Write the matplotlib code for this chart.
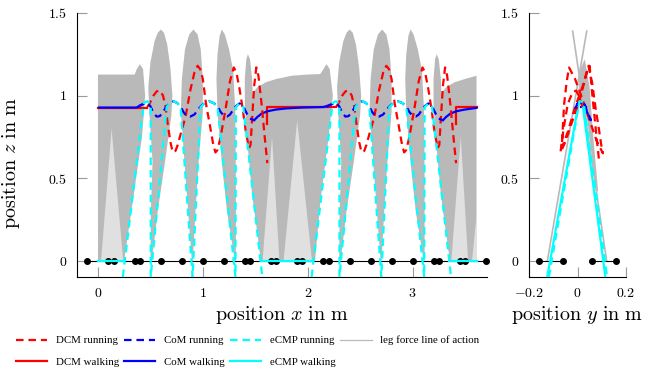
import matplotlib
matplotlib.use("Agg")
import matplotlib.pyplot as plt
from matplotlib.lines import Line2D

plt.rcParams["mathtext.fontset"] = "cm"
plt.rcParams["font.family"] = "serif"
plt.rcParams["font.serif"] = ["Liberation Serif", "DejaVu Serif"]

RED, BLUE, CYAN = "#ff0000", "#0000ff", "#00ffff"
GRAY, LIGHT = "#b9b9b9", "#e0e0e0"

# ---------------------------------------------------------------- sagittal (x-z)
## footstep heel/toe points on the ground
feet_x = [-0.1, 0.1, 0.15, 0.35, 0.4, 0.6, 0.8, 1.0, 1.2, 1.4, 1.45, 1.65, 1.7,
          1.9, 1.95, 2.15, 2.2, 2.4, 2.6, 2.8, 3.0, 3.2, 3.25, 3.45, 3.5, 3.7]

## DCM running (two running phases)
dcm_run1_x = [0.47, 0.50, 0.53, 0.56, 0.59, 0.62, 0.645, 0.665, 0.69, 0.71, 0.725, 0.74, 0.76, 0.79,
              0.835, 0.88, 0.92, 0.95, 0.975, 1.00, 1.03, 1.07, 1.10, 1.12, 1.14, 1.17, 1.22, 1.26,
              1.295, 1.32, 1.35, 1.38, 1.41, 1.44, 1.455, 1.47, 1.49, 1.51, 1.53, 1.56, 1.59, 1.615]
dcm_run_z = [0.93, 0.96, 1.00, 1.025, 1.03, 1.00, 0.93, 0.83, 0.72, 0.665, 0.655, 0.665, 0.70, 0.77,
             0.87, 1.03, 1.14, 1.18, 1.16, 1.10, 0.95, 0.81, 0.70, 0.655, 0.67, 0.75, 0.93, 1.09,
             1.17, 1.14, 1.04, 0.92, 0.78, 0.68, 0.70, 0.86, 1.06, 1.17, 1.12, 0.95, 0.75, 0.59]
dcm_run2_x = [2.27, 2.30, 2.33, 2.36, 2.39, 2.42, 2.445, 2.465, 2.49, 2.51, 2.525, 2.54, 2.56, 2.59,
              2.635, 2.68, 2.72, 2.75, 2.775, 2.80, 2.83, 2.87, 2.90, 2.92, 2.94, 2.97, 3.02, 3.06,
              3.095, 3.12, 3.15, 3.18, 3.21, 3.24, 3.255, 3.27, 3.29, 3.31, 3.33, 3.36, 3.39, 3.415]

## DCM walking
dcm_walk1_x = [0.0, 0.47]
dcm_walk1_z = [0.927, 0.927]
dcm_walk2_x = [1.615, 1.615, 2.27]
dcm_walk2_z = [0.83, 0.93, 0.93]
dcm_walk3_x = [3.415, 3.415, 3.61]
dcm_walk3_z = [0.83, 0.93, 0.93]

## CoM running
com_run1_x = [0.38, 0.42, 0.44, 0.47, 0.50, 0.53, 0.56, 0.59, 0.62, 0.655, 0.69, 0.72, 0.755, 0.79,
              0.82, 0.85, 0.88, 0.92, 0.95, 0.98, 1.02, 1.06, 1.10, 1.14, 1.17, 1.20, 1.23, 1.26,
              1.29, 1.315, 1.35, 1.385, 1.42, 1.45, 1.49]
com_run_z = [0.93, 0.945, 0.95, 0.955, 0.935, 0.895, 0.872, 0.875, 0.90, 0.935, 0.96, 0.965, 0.955, 0.93,
             0.895, 0.875, 0.872, 0.885, 0.91, 0.935, 0.955, 0.965, 0.955, 0.935, 0.90, 0.878, 0.872, 0.885,
             0.915, 0.935, 0.952, 0.935, 0.89, 0.86, 0.85]
com_run2_x = [2.18, 2.22, 2.24, 2.27, 2.30, 2.33, 2.36, 2.39, 2.42, 2.455, 2.49, 2.52, 2.555, 2.59,
              2.62, 2.65, 2.68, 2.72, 2.75, 2.78, 2.82, 2.86, 2.90, 2.94, 2.97, 3.00, 3.03, 3.06,
              3.09, 3.115, 3.15, 3.185, 3.22, 3.25, 3.29]

## CoM walking
com_walk1_x = [0.01, 0.36, 0.38, 0.40, 0.42]
com_walk1_z = [0.927, 0.927, 0.93, 0.94, 0.945]
com_walk2_x = [1.49, 1.52, 1.56, 1.62, 1.70, 1.80, 1.95, 2.15, 2.19, 2.22]
com_walk2_z = [0.85, 0.87, 0.89, 0.905, 0.915, 0.922, 0.927, 0.93, 0.938, 0.945]
com_walk3_x = [3.29, 3.32, 3.36, 3.42, 3.50, 3.61]
com_walk3_z = [0.85, 0.87, 0.89, 0.905, 0.915, 0.925]

## eCMP running
ecmp_run1_x = [0.237, 0.437, 0.455, 0.47, 0.49, 0.503, 0.503, 0.655, 0.685, 0.72, 0.755, 0.788,
               0.902, 0.978, 1.02, 1.06, 1.10, 1.14, 1.311, 1.315, 1.35, 1.385, 1.567]
ecmp_run_z = [-0.1, 0.95, 0.962, 0.965, 0.955, 0.94, -0.1, 0.93, 0.955, 0.965, 0.955, 0.93,
              -0.1, 0.93, 0.955, 0.965, 0.955, 0.93, -0.1, 0.93, 0.952, 0.935, -0.1]
ecmp_run2_x = [2.037, 2.237, 2.255, 2.27, 2.29, 2.303, 2.303, 2.455, 2.485, 2.52, 2.555, 2.588,
               2.702, 2.778, 2.82, 2.86, 2.90, 2.94, 3.111, 3.115, 3.15, 3.185, 3.367]

## eCMP walking (on the ground)
ecmp_walk_segments = [(0.0, 0.237), (1.55, 2.04), (3.35, 3.61)]

## leg force lines of action: dense envelopes and sparse (light) wedges
force_dense = [
    [(0.0, 0.0), (0.0, 1.127), (0.35, 1.127), (0.37, 1.16), (0.40, 1.19), (0.43, 1.16),
     (0.45, 1.0), (0.42, 0.75), (0.33, 0.35), (0.25, 0.0)],
    [(0.50, 0.0), (0.505, 0.3), (0.52, 0.6), (0.49, 0.9), (0.48, 1.05), (0.50, 1.2), (0.54, 1.33),
     (0.57, 1.38), (0.60, 1.40), (0.63, 1.38), (0.66, 1.31), (0.69, 1.17), (0.71, 1.0),
     (0.70, 0.88), (0.64, 0.6), (0.57, 0.3), (0.515, 0.0)],
    [(0.895, 0.0), (0.86, 0.3), (0.825, 0.6), (0.79, 0.9), (0.80, 1.1), (0.83, 1.28), (0.87, 1.37),
     (0.91, 1.40), (0.95, 1.37), (0.98, 1.28), (1.00, 1.1), (1.00, 0.9), (0.96, 0.6), (0.93, 0.3),
     (0.905, 0.0)],
    [(1.305, 0.0), (1.23, 0.3), (1.18, 0.6), (1.14, 0.9), (1.13, 1.1), (1.14, 1.25), (1.16, 1.36),
     (1.18, 1.40), (1.21, 1.37), (1.25, 1.28), (1.29, 1.15), (1.31, 0.9), (1.315, 0.5), (1.315, 0.0)],
    [(1.555, 0.0), (1.47, 0.4), (1.42, 0.75), (1.40, 0.95), (1.40, 1.1), (1.415, 1.22), (1.43, 1.25),
     (1.45, 1.22), (1.47, 1.1), (1.48, 0.95), (1.52, 0.6), (1.57, 0.2), (1.575, 0.0)],
    [(1.55, 0.0), (1.50, 0.4), (1.47, 0.8), (1.47, 1.01), (1.52, 1.05), (1.60, 1.08), (1.70, 1.10),
     (1.85, 1.12), (2.00, 1.127), (2.12, 1.13), (2.15, 1.16), (2.18, 1.19), (2.21, 1.16),
     (2.24, 1.0), (2.20, 0.75), (2.12, 0.35), (2.07, 0.0)],
    [(2.30, 0.0), (2.305, 0.3), (2.32, 0.6), (2.29, 0.9), (2.28, 1.05), (2.30, 1.2), (2.34, 1.33),
     (2.37, 1.38), (2.40, 1.40), (2.43, 1.38), (2.46, 1.31), (2.49, 1.17), (2.51, 1.0),
     (2.50, 0.88), (2.44, 0.6), (2.37, 0.3), (2.315, 0.0)],
    [(2.695, 0.0), (2.66, 0.3), (2.625, 0.6), (2.59, 0.9), (2.60, 1.1), (2.63, 1.28), (2.67, 1.37),
     (2.71, 1.40), (2.75, 1.37), (2.78, 1.28), (2.80, 1.1), (2.80, 0.9), (2.76, 0.6), (2.73, 0.3),
     (2.705, 0.0)],
    [(3.105, 0.0), (3.03, 0.3), (2.98, 0.6), (2.94, 0.9), (2.93, 1.1), (2.94, 1.25), (2.96, 1.36),
     (2.98, 1.40), (3.01, 1.37), (3.05, 1.28), (3.09, 1.15), (3.11, 0.9), (3.115, 0.5), (3.115, 0.0)],
    [(3.355, 0.0), (3.27, 0.4), (3.22, 0.75), (3.20, 0.95), (3.20, 1.1), (3.215, 1.22), (3.23, 1.25),
     (3.25, 1.22), (3.27, 1.1), (3.28, 0.95), (3.32, 0.6), (3.37, 0.2), (3.375, 0.0)],
    [(3.355, 0.0), (3.30, 0.4), (3.27, 0.8), (3.27, 1.01), (3.32, 1.05), (3.40, 1.08), (3.50, 1.10),
     (3.61, 1.12), (3.61, 0.0)],
]
force_sparse = [
    [(0.03, 0.0), (0.24, 0.0), (0.13, 0.8)],
    [(1.57, 0.0), (1.73, 0.0), (1.66, 0.75)],
    [(1.77, 0.0), (2.04, 0.0), (1.90, 0.85)],
    [(3.37, 0.0), (3.53, 0.0), (3.46, 0.75)],
    [(3.57, 0.0), (3.61, 0.0), (3.61, 0.3)],
]

# ---------------------------------------------------------------- lateral (y-z)
feet_y = [[-0.16, -0.06], [0.06, 0.16]]
dcm_lat_y = [0.02, 0.01, -0.005, -0.02, -0.04, -0.055, -0.065, -0.07, -0.05, -0.02, 0.01, 0.035,
             0.045, 0.06, 0.075, 0.09, 0.1, 0.105, 0.08, 0.05, 0.02, -0.01, -0.035, -0.045,
             -0.055, -0.06, -0.065, -0.04, -0.01, 0.02, 0.04, 0.05, 0.06, 0.075, 0.09]
dcm_lat_z = [0.93, 0.98, 1.03, 1.02, 0.95, 0.82, 0.72, 0.655, 0.72, 0.85, 0.98, 1.12,
             1.18, 1.08, 0.92, 0.78, 0.68, 0.65, 0.72, 0.85, 0.98, 1.10, 1.17, 1.08,
             0.95, 0.82, 0.68, 0.78, 0.93, 1.05, 1.15, 1.18, 1.02, 0.80, 0.59]
com_lat_y = [-0.01, 0.0, 0.015, 0.03, 0.04, 0.05, 0.055, 0.045, 0.03, 0.015, 0.0, -0.01]
com_lat_z = [0.92, 0.95, 0.96, 0.945, 0.90, 0.87, 0.85, 0.88, 0.93, 0.96, 0.95, 0.92]
com_walk_lat_y = [0.015, 0.035]
com_walk_lat_z = [0.93, 0.93]
ecmp_lat_y = [-0.125, 0.005, 0.02, 0.115]
ecmp_lat_z = [-0.1, 0.955, 0.955, -0.1]
ecmp_run_lat_y = [-0.118, 0.008, 0.025, 0.122]
ecmp_run_lat_z = [-0.1, 0.965, 0.96, -0.1]
force_lat_lines = [[(-0.124, 0.0), (0.038, 1.39)], [(0.12, 0.0), (-0.02, 1.39)]]
force_lat_dense = [(0.0, 0.97), (0.012, 1.16), (0.03, 1.22), (0.05, 1.05), (0.065, 0.75),
                   (0.085, 0.42), (0.078, 0.42), (0.04, 0.85), (0.02, 0.95)]

DASH = (3.4, 2.2)
LW = 1.6


def style(ax, xticks, xlabels, xlim):
    ax.set_xlim(*xlim)
    ax.set_ylim(-0.1, 1.5)
    for s in ("top", "right"):
        ax.spines[s].set_visible(False)
    for s in ("left", "bottom"):
        ax.spines[s].set_linewidth(0.8)
    ax.set_xticks(xticks)
    ax.set_xticklabels(xlabels)
    ax.set_yticks([0, 0.5, 1, 1.5])
    ax.set_yticklabels(["$0$", "$0.5$", "$1$", "$1.5$"])
    ax.tick_params(direction="in", length=7, width=0.8, color="#9a9a9a", labelsize=10, pad=7)


fig = plt.figure(figsize=(6.57, 3.75), dpi=100)
ax = fig.add_axes([77 / 657, 98 / 375, 410 / 657, 264 / 375])
axr = fig.add_axes([529 / 657, 98 / 375, 97 / 657, 264 / 375])

## ---- left: sagittal plane
for poly in force_dense:
    ax.fill([p[0] for p in poly], [p[1] for p in poly], color=GRAY, lw=0, zorder=1)
for poly in force_sparse:
    ax.fill([p[0] for p in poly], [p[1] for p in poly], color=LIGHT, lw=0, zorder=1.1)

ax.plot(feet_x, [0] * len(feet_x), "-o", color="black", lw=0.8, ms=4, zorder=2, clip_on=False)

for xs, zs in [(dcm_walk1_x, dcm_walk1_z), (dcm_walk2_x, dcm_walk2_z), (dcm_walk3_x, dcm_walk3_z)]:
    ax.plot(xs, zs, color=RED, lw=LW, zorder=3)
for xs, zs in [(com_walk1_x, com_walk1_z), (com_walk2_x, com_walk2_z), (com_walk3_x, com_walk3_z)]:
    ax.plot(xs, zs, color=BLUE, lw=LW, zorder=4)
for x0, x1 in ecmp_walk_segments:
    ax.plot([x0, x1], [0, 0], color=CYAN, lw=LW, zorder=4.5)

for xs in (dcm_run1_x, dcm_run2_x):
    ax.plot(xs, dcm_run_z, color=RED, lw=LW, dashes=DASH, zorder=5)
for xs in (com_run1_x, com_run2_x):
    ax.plot(xs, com_run_z, color=BLUE, lw=LW, dashes=DASH, zorder=6)
for xs in (ecmp_run1_x, ecmp_run2_x):
    ax.plot(xs, ecmp_run_z, color=CYAN, lw=LW, dashes=DASH, zorder=7)

style(ax, [0, 1, 2, 3], ["$0$", "$1$", "$2$", "$3$"], (-0.2, 3.71))
ax.set_xlabel(r"$\mathrm{position}\ x\ \mathrm{in\ m}$", fontsize=14.5, labelpad=3)
ax.set_ylabel(r"$\mathrm{position}\ z\ \mathrm{in\ m}$", fontsize=14.5)
ax.yaxis.set_label_coords(-0.133, 0.43)

## ---- right: lateral plane
for line in force_lat_lines:
    axr.plot([p[0] for p in line], [p[1] for p in line], color=GRAY, lw=1.2, zorder=1)
axr.fill([p[0] for p in force_lat_dense], [p[1] for p in force_lat_dense], color=GRAY, lw=0, zorder=1)
for pair in feet_y:
    axr.plot(pair, [0, 0], "-o", color="black", lw=0.8, ms=4, zorder=2)
axr.plot(com_walk_lat_y, com_walk_lat_z, color=BLUE, lw=LW, zorder=4)
axr.plot(ecmp_lat_y, ecmp_lat_z, color=CYAN, lw=LW, zorder=4.5)
axr.plot(dcm_lat_y, dcm_lat_z, color=RED, lw=LW, dashes=DASH, zorder=5)
axr.plot(com_lat_y, com_lat_z, color=BLUE, lw=LW, dashes=DASH, zorder=6)
axr.plot(ecmp_run_lat_y, ecmp_run_lat_z, color=CYAN, lw=LW, dashes=DASH, zorder=7)

style(axr, [-0.2, 0, 0.2], ["$-0.2$", "$0$", "$0.2$"], (-0.2, 0.2))
axr.set_xlabel(r"$\mathrm{position}\ y\ \mathrm{in\ m}$", fontsize=14.5, labelpad=3)

## ---- legend below both panels (column-major order -> two rows)
handles = [
    Line2D([], [], color=RED, lw=LW, dashes=DASH),
    Line2D([], [], color=RED, lw=LW),
    Line2D([], [], color=BLUE, lw=LW, dashes=DASH),
    Line2D([], [], color=BLUE, lw=LW),
    Line2D([], [], color=CYAN, lw=LW, dashes=DASH),
    Line2D([], [], color=CYAN, lw=LW),
    Line2D([], [], color=GRAY, lw=0.9),
]
labels = ["DCM running", "DCM walking", "CoM running", "CoM walking",
          "eCMP running", "eCMP walking", "leg force line of action"]
fig.legend(handles, labels, loc="upper left", bbox_to_anchor=(0.024, 0.105), ncol=4,
           frameon=False, fontsize=7.8, handlelength=2.9, handletextpad=0.8,
           columnspacing=0.45, borderpad=0, borderaxespad=0, labelspacing=1.1)

fig.savefig("out.png", dpi=100)
